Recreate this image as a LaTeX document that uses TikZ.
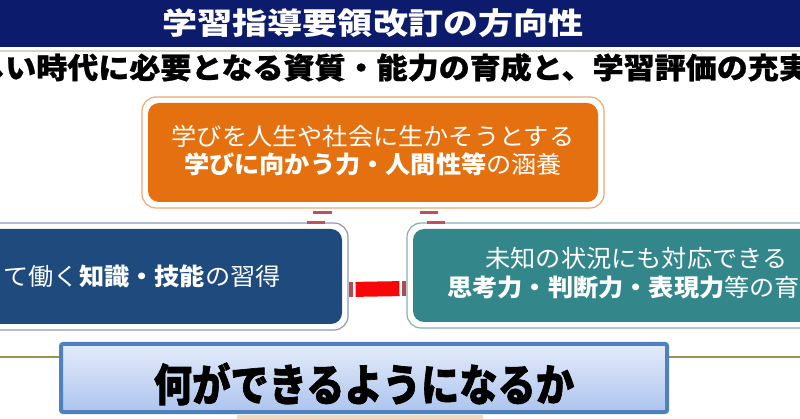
\documentclass[tikz,border=0pt]{standalone}
\usepackage{fontspec}
\setmainfont{Noto Sans CJK JP}
\usetikzlibrary{shadings}
\definecolor{navy}{HTML}{0C1B6B}
\definecolor{bandline}{HTML}{D6D3CB}
\definecolor{orangefill}{HTML}{E5700F}
\definecolor{orangeline}{HTML}{E9A876}
\definecolor{leftfill}{HTML}{1F4A7E}
\definecolor{leftline}{HTML}{8C9BB8}
\definecolor{rightfill}{HTML}{33878B}
\definecolor{rightline}{HTML}{86B0B2}
\definecolor{barred}{HTML}{F70808}
\definecolor{stubred}{HTML}{B5474F}
\definecolor{markred}{HTML}{C0505A}
\definecolor{bottomline}{HTML}{4F81BD}
\definecolor{bottomtop}{HTML}{E4ECFA}
\definecolor{bottombot}{HTML}{ADC4EE}
\definecolor{hlinecol}{HTML}{A38E52}
\definecolor{beige}{HTML}{E9DDBB}
\tikzset{
  frame/.style={rectangle, rounded corners=14pt, fill=white, line width=1.2pt, inner sep=0pt},
  fillbox/.style={rectangle, rounded corners=11pt, inner sep=0pt},
  boxtext/.style={text=white, inner sep=0pt, font=\fontsize{24}{28}\selectfont},
  stub/.style={draw=markred, line width=2.5pt},
  redbar/.style={draw=barred, line width=15pt},
  redend/.style={draw=stubred, line width=15pt},
}
\begin{document}
\begin{tikzpicture}[x=1pt,y=-1pt]
\useasboundingbox (0,0) rectangle (800,419);
\clip (0,0) rectangle (800,419);
\fill[white] (0,0) rectangle (800,419);
% header band
\fill[navy] (0,0) rectangle (800,47);
\draw[bandline, line width=2.5pt] (0,51) -- (800,51);
\node[text=white, inner sep=0pt, font=\fontsize{30}{34}\selectfont\bfseries] (title) at (373,23.5)
  {\scalebox{1.17}[1]{学習指導要領改訂の方向性}};
\node[text=black, inner sep=0pt, anchor=west, font=\fontsize{29}{33}\selectfont\bfseries\addfontfeature{FakeBold=0.8}] (sub) at (-26,67.5)
  {\scalebox{1.07}[1]{しい時代に必要となる資質・能力の育成と、学習評価の充実}};
% horizontal line behind bottom box
\coordinate (hl) at (0,357);
\coordinate (hr) at (800,357);
\draw[hlinecol, line width=2pt] (hl) -- (hr);
% orange box
\node[frame, draw=orangeline, minimum width=462pt, minimum height=111pt] (oframe) at (373,152.5) {};
\node[fillbox, fill=orangefill, minimum width=450pt, minimum height=99pt] (orange) at (373,152.5) {};
\node[boxtext] (o1) at (373,136) {\scalebox{1.05}[1]{学びを人生や社会に生かそうとする}};
\node[boxtext] (o2) at (373,164) {\scalebox{1.05}[1]{\textbf{学びに向かう力・人間性等}の涵養}};
% left box
\node[frame, draw=leftline, minimum width=462pt, minimum height=107pt] (lframe) at (117,276.5) {};
\node[fillbox, fill=leftfill, minimum width=450pt, minimum height=95pt] (left) at (117,276.5) {};
\node[boxtext, anchor=east] (l1) at (281,276) {\scalebox{1.05}[1]{きて働く\textbf{知識・技能}の習得}};
% right box
\node[frame, draw=rightline, minimum width=459pt, minimum height=105pt] (rframe) at (636.5,275.5) {};
\node[fillbox, fill=rightfill, minimum width=447pt, minimum height=93pt] (right) at (636.5,275.5) {};
\node[boxtext] (r1) at (636.5,258) {\scalebox{1.05}[1]{未知の状況にも対応できる}};
\node[boxtext, anchor=west] (r2) at (447,287.5) {\scalebox{1.05}[1]{\textbf{思考力・判断力・表現力}等の育}};
% connectors between boxes
\draw[redend] ([yshift=-13pt]lframe.east) -- ([shift={(4pt,-13pt)}]lframe.east);
\draw[redend] ([yshift=-13pt]rframe.west) -- ([shift={(-4pt,-13pt)}]rframe.west);
\draw[redbar, shorten <=7pt, shorten >=7pt] ([yshift=-13pt]lframe.east) -- ([yshift=-13pt]rframe.west);
\draw[stub] ([shift={(-60pt,-4pt)}]oframe.south) -- ++(19,0);
\draw[stub] ([shift={(-66pt,-14pt)}]oframe.south) -- ++(18,0);
\draw[stub] ([shift={(47pt,-4pt)}]oframe.south) -- ++(18,0);
\draw[stub] ([shift={(54pt,-14pt)}]oframe.south) -- ++(18,0);
% bottom box
\node[rectangle, rounded corners=2pt, draw=bottomline, line width=4pt, top color=bottomtop, bottom color=bottombot,
  minimum width=606pt, minimum height=68pt, inner sep=0pt] (bottom) at (364,378) {};
\node[text=black, inner sep=0pt, font=\fontsize{44}{48}\selectfont\bfseries\addfontfeature{FakeBold=1.5}] (btext) at (364,384)
  {\scalebox{0.87}[1]{何ができるようになるか}};
\fill[beige] (237,415) rectangle (483,419);
\end{tikzpicture}
\end{document}
